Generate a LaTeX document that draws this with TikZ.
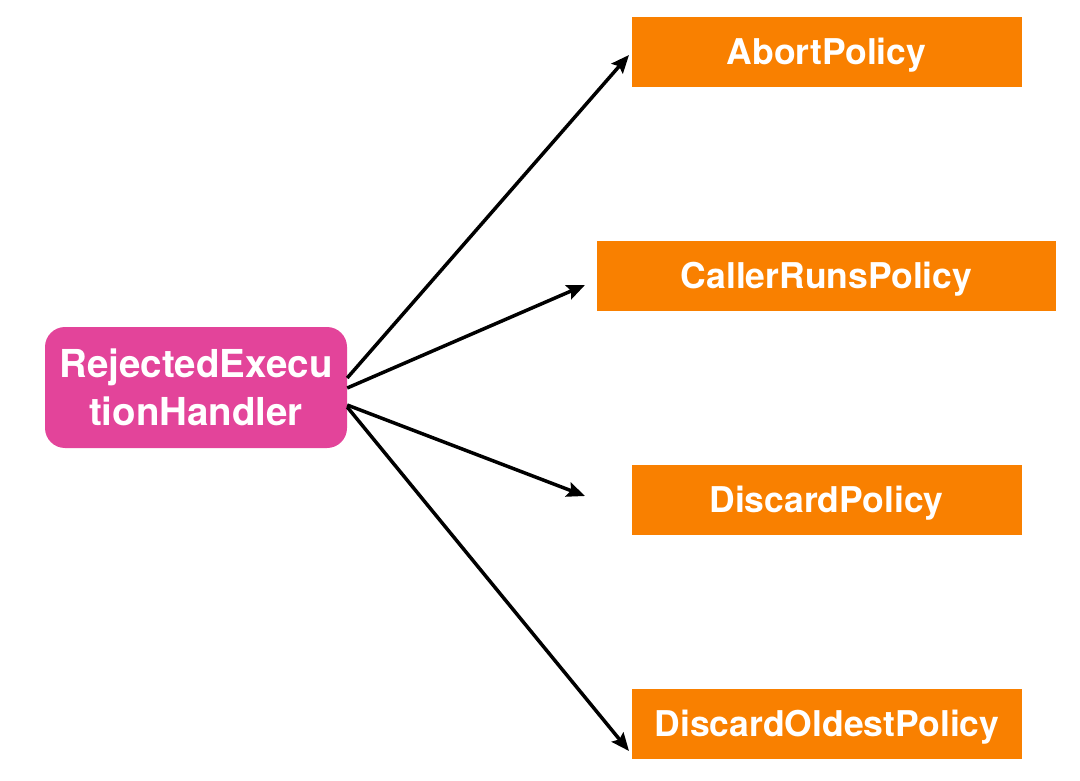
\documentclass[tikz,border=0pt]{standalone}
\usepackage{fontspec}
\setmainfont{TeX Gyre Heros}
\usetikzlibrary{arrows.meta}
\definecolor{handlerpink}{HTML}{E3449A}
\definecolor{policyorange}{HTML}{F98000}

\begin{document}
\begin{tikzpicture}[x = 1pt, y = -1pt,
        policy/.style = {fill = policyorange, inner sep = 0pt, minimum width = 390pt, minimum height = 70pt, text height = 25pt, text depth = 0pt, text = white, font = \fontsize{35.5}{42}\selectfont\bfseries},
        link/.style = {-{Stealth[length = 18pt, width = 15pt, inset = 3pt]}, line width = 3.5pt}]
        \useasboundingbox (0, 0) rectangle (1080, 781);

        % Nodes
        \node [fill = handlerpink, rounded corners = 20pt, minimum width = 302pt, minimum height = 121pt, text = white, align = center, font = \fontsize{38.5}{48}\selectfont\bfseries] (handler) at (196, 387.5) {RejectedExecu\\tionHandler};
        \node [policy] (abort) at (826.5, 52.5) {AbortPolicy};
        \node [policy, minimum width = 459pt] (caller) at (826.5, 276) {CallerRunsPolicy};
        \node [policy] (discard) at (826.5, 500) {DiscardPolicy};
        \node [policy] (oldest) at (827, 723.5) {DiscardOldestPolicy};

        % Arrow ends
        \coordinate (t1) at (629, 55);
        \coordinate (t2) at (585, 285);
        \coordinate (t3) at (585, 496);
        \coordinate (t4) at (629, 751);

        % Lines
        \draw [link] ([yshift = 9.5pt]handler.east) -- (t1);
        \draw [link] ([yshift = -0.5pt]handler.east) -- (t2);
        \draw [link] ([yshift = -17.5pt]handler.east) -- (t3);
        \draw [link] ([yshift = -19.5pt]handler.east) -- (t4);

    \end{tikzpicture}
\end{document}
